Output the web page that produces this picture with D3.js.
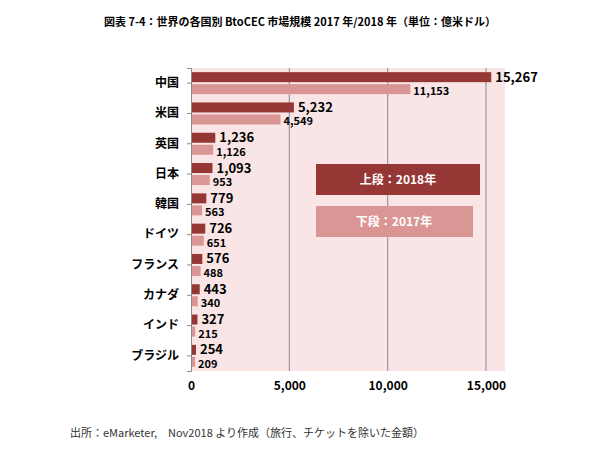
<!DOCTYPE html><html><head><meta charset="utf-8"><script src="https://cdn.jsdelivr.net/npm/d3@7"></script>
<style>body{margin:0;background:#fff}text{font-family:"Noto Sans CJK JP",sans-serif}</style></head><body><svg id="c" width="600" height="450"></svg>
<script>
const categories=["中国","米国","英国","日本","韓国","ドイツ","フランス","カナダ","インド","ブラジル"];
const v2018=[15267,5232,1236,1093,779,726,576,443,327,254];
const v2017=[11153,4549,1126,953,563,651,488,340,215,209];
const ticks=[0,5000,10000,15000];
const svg=d3.select("#c");
const L=191,R=505,T=68,B=371;
const x=d3.scaleLinear().domain([0,15000]).range([L,486]);
const y=d3.scaleBand().domain(categories).range([T,B]);
svg.append("rect").attr("x",L).attr("y",T).attr("width",R-L).attr("height",B-T).attr("fill","#f9e5e5");
ticks.slice(1).forEach(t=>svg.append("line").attr("x1",x(t)).attr("x2",x(t)).attr("y1",T).attr("y2",B).attr("stroke","#999").attr("stroke-width",1.2));
svg.append("text").attr("x",300).attr("y",26).attr("text-anchor","middle").attr("font-size",11).attr("font-weight","bold").text("図表 7-4：世界の各国別 BtoCEC 市場規模 2017 年/2018 年（単位：億米ドル）");
const g=svg.append("g");
categories.forEach((c,i)=>{
 const y0=y(c)+y.bandwidth()/2;
 g.append("rect").attr("x",L).attr("y",y0-11).attr("width",x(v2018[i])-L).attr("height",10).attr("fill","#953735");
 g.append("rect").attr("x",L).attr("y",y0+1).attr("width",x(v2017[i])-L).attr("height",10).attr("fill","#d99694");
 g.append("text").attr("x",x(v2018[i])+4).attr("y",y0-1.5).attr("font-size",13).attr("font-weight","bold").attr("font-family","DejaVu Sans,sans-serif").text(d3.format(",")(v2018[i]));
 g.append("text").attr("x",x(v2017[i])+3).attr("y",y0+12).attr("font-size",11).attr("font-weight","bold").attr("font-family","DejaVu Sans,sans-serif").text(d3.format(",")(v2017[i]));
});
svg.append("g").attr("transform",`translate(${L},0)`).call(d3.axisLeft(y).tickSize(4).tickPadding(8)).call(a=>{a.selectAll("text").attr("font-size",12).attr("font-weight","bold").attr("fill","#000");a.selectAll("path,line").attr("stroke","#888");});
svg.append("g").attr("transform",`translate(0,${B})`).call(d3.axisBottom(x).tickValues(ticks).tickFormat(d3.format(",")).tickSize(0).tickPadding(10)).call(a=>{a.select("path").remove();a.selectAll("text").attr("font-size",12).attr("font-weight","bold").attr("fill","#000").attr("font-family","DejaVu Sans,sans-serif");});
svg.append("rect").attr("x",316).attr("y",164).attr("width",164).attr("height",31).attr("fill","#953735");
svg.append("text").attr("x",398).attr("y",184).attr("text-anchor","middle").attr("fill","#fff").attr("font-size",12).attr("font-weight","bold").text("上段：2018年");
svg.append("rect").attr("x",316).attr("y",206).attr("width",157).attr("height",31).attr("fill","#d99694");
svg.append("text").attr("x",394).attr("y",226).attr("text-anchor","middle").attr("fill","#fff").attr("font-size",12).attr("font-weight","bold").text("下段：2017年");
svg.append("text").attr("x",70).attr("y",437).attr("font-size",11).attr("fill","#333").text("出所：eMarketer,　Nov2018 より作成（旅行、チケットを除いた金額）");
</script></body></html>
